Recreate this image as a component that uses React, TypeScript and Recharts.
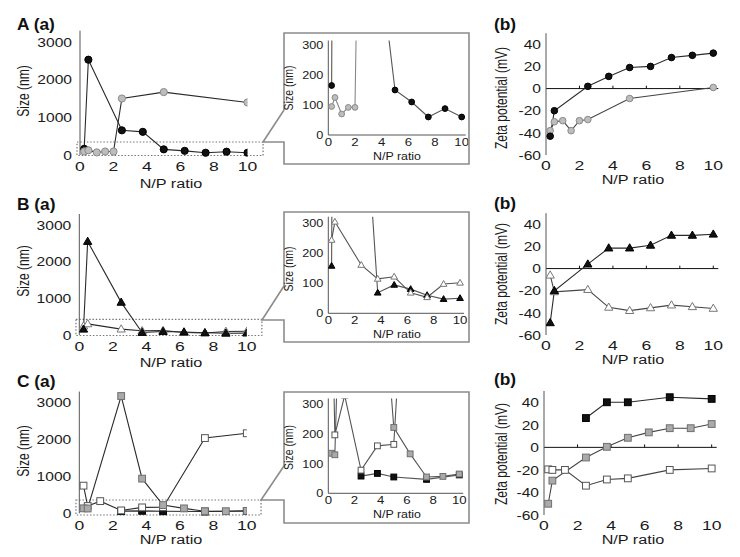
import React from 'react';
import { LineChart, Line, XAxis, YAxis, ReferenceLine, ReferenceArea } from 'recharts';

const FONT = '"Liberation Sans", Arial, Helvetica, sans-serif';

// ---------- Data (N/P ratio vs size / zeta potential) ----------
// Row A
const aSizeBlackX = [0.25, 0.5, 2.5, 3.75, 5, 6.25, 7.5, 8.75, 10];
const aSizeBlackY = [165, 2530, 655, 615, 150, 110, 60, 88, 60];
const aSizeGrayX = [0.25, 0.5, 1, 1.5, 2, 2.5, 5, 10];
const aSizeGrayY = [95, 125, 70, 92, 92, 1500, 1670, 1395];
const aZetaBlackX = [0.25, 0.5, 2.5, 3.75, 5, 6.25, 7.5, 8.75, 10];
const aZetaBlackY = [-43, -20, 2, 11, 19, 20, 28, 30, 32];
const aZetaGrayX = [0.25, 0.5, 1, 1.5, 2, 2.5, 5, 10];
const aZetaGrayY = [-38, -30, -29, -38, -29, -28, -9, 1];

// Row B
const bSizeX = [0.25, 0.5, 2.5, 3.75, 5, 6.25, 7.5, 8.75, 10];
const bSizeBlackY = [157, 2550, 890, 68, 94, 80, 60, 47, 50];
const bSizeWhiteY = [243, 303, 160, 114, 121, 68, 53, 97, 101];
const bZetaX = [0.25, 0.5, 2.5, 3.75, 5, 6.25, 7.5, 8.75, 10];
const bZetaBlackY = [-49, -20, 4, 18.5, 18.5, 21, 30, 30, 31];
const bZetaWhiteY = [-6, -21, -19, -35, -38, -35.5, -33, -34.5, -36];

// Row C
const cSizeWhiteX = [0.25, 0.5, 1.25, 2.5, 3.75, 5, 7.5, 10];
const cSizeWhiteY = [750, 197, 330, 78, 160, 165, 2040, 2170];
const cSizeGrayX = [0.25, 0.5, 2.5, 3.75, 5, 6.25, 7.5, 8.75, 10];
const cSizeGrayY = [135, 130, 3180, 940, 222, 133, 55, 57, 65];
const cSizeBlackX = [2.5, 3.75, 5, 7.5, 10];
const cSizeBlackY = [58, 67, 55, 47, 62];
const cZetaBlackX = [2.5, 3.75, 5, 7.5, 10];
const cZetaBlackY = [26, 40, 40, 44.5, 43];
const cZetaGrayX = [0.25, 0.5, 2.5, 3.75, 5, 6.25, 7.5, 8.75, 10];
const cZetaGrayY = [-50, -29.5, -9, 0.5, 8.5, 13.3, 17, 17, 20.7];
const cZetaWhiteX = [0.25, 0.5, 1.25, 2.5, 3.75, 5, 7.5, 10];
const cZetaWhiteY = [-19.5, -20, -20, -34, -28.5, -27.5, -20, -18.7];

// Ticks
const npTicks = [0, 2, 4, 6, 8, 10];
const sizeTicks = [0, 1000, 2000, 3000];
const insetTicks = [0, 100, 200, 300];
const zetaTicks = [-60, -40, -20, 0, 20, 40];
const zeroTickXs = [2, 4, 6, 8, 10];

// ---------- helpers ----------
type Pt = { x: number; y: number };
const pts = (xs: number[], ys: number[]): Pt[] => xs.map((x, i) => ({ x, y: ys[i] }));

type Kind = 'circle' | 'triangle' | 'square';
const makeDot = (kind: Kind, fill: string, stroke: string, s: number) => (props: any) => {
  const { cx, cy, index } = props;
  if (cx == null || cy == null) return <g key={`d${index}`} />;
  if (kind === 'circle')
    return <circle key={`d${index}`} cx={cx} cy={cy} r={s} fill={fill} stroke={stroke} strokeWidth={1} />;
  if (kind === 'square')
    return <rect key={`d${index}`} x={cx - s} y={cy - s} width={2 * s} height={2 * s} fill={fill} stroke={stroke} strokeWidth={1} />;
  const p = `${cx},${cy - s * 1.2} ${cx - s * 1.15},${cy + s * 0.8} ${cx + s * 1.15},${cy + s * 0.8}`;
  return <polygon key={`d${index}`} points={p} fill={fill} stroke={stroke} strokeWidth={1} />;
};

const mkTick = (fs: number, sx: number, kind: 'x' | 'y') => (p: any) => {
  const { x, y, payload, index } = p;
  return (
    <g key={`t${index}`} transform={`translate(${x},${y})`}>
      <text
        transform={`scale(${sx},1)`}
        textAnchor={kind === 'x' ? 'middle' : 'end'}
        dy={kind === 'x' ? '0.72em' : '0.36em'}
        fontSize={fs}
        fontFamily={FONT}
        fill="#1a1a1a"
      >
        {payload.value}
      </text>
    </g>
  );
};

type Series = { data: Pt[]; dot: any; stroke: string; width?: number };
type PanelProps = {
  left: number; top: number; w: number; h: number;
  xDomain: [number, number]; yDomain: [number, number];
  yTicks: number[]; series: Series[];
  yTickMargin: number; xTickMargin: number;
  yFs: number; ySx: number; xFs: number; xSx: number;
  xAxisLine?: boolean; zero?: boolean; clip?: boolean;
  box?: { x1: number; x2: number; y1: number; y2: number };
  axisColor?: string;
};

const AXW = 40; // reserved y-axis width
const AXH = 30; // reserved x-axis height

const Panel = (p: PanelProps) => {
  const W = 740, H = 557;
  const margin = { left: p.left - AXW, top: p.top, right: W - p.left - p.w, bottom: H - p.top - p.h - AXH };
  return (
    <div style={{ position: 'absolute', left: 0, top: 0, width: W, height: H }}>
      <LineChart width={W} height={H} margin={margin}>
        <XAxis
          type="number" dataKey="x" domain={p.xDomain} ticks={npTicks} height={AXH}
          axisLine={p.xAxisLine ? { stroke: p.axisColor || '#444', strokeWidth: 1 } : false}
          tickLine={false} tickSize={0} tickMargin={p.xTickMargin}
          tick={mkTick(p.xFs, p.xSx, 'x')} interval={0} allowDataOverflow
        />
        <YAxis
          type="number" dataKey="y" domain={p.yDomain} ticks={p.yTicks} width={AXW}
          axisLine={{ stroke: p.axisColor || '#444', strokeWidth: 1 }}
          tickLine={false} tickSize={0} tickMargin={p.yTickMargin}
          tick={mkTick(p.yFs, p.ySx, 'y')} interval={0} allowDataOverflow={!!p.clip}
        />
        {p.zero && <ReferenceLine y={0} stroke="#111" strokeWidth={1} ifOverflow="visible" />}
        {p.zero &&
          zeroTickXs.map((tx) => (
            <ReferenceLine key={`zt${tx}`} segment={[{ x: tx, y: 0 }, { x: tx, y: 2.6 }]} stroke="#111" strokeWidth={1} ifOverflow="visible" />
          ))}
        {p.box && (
          <ReferenceArea
            x1={p.box.x1} x2={p.box.x2} y1={p.box.y1} y2={p.box.y2}
            fill="none" fillOpacity={0} stroke="#777" strokeWidth={1.2} strokeDasharray="1.5 1.8" ifOverflow="visible"
          />
        )}
        {p.series.map((s, i) => (
          <Line
            key={i} data={s.data} dataKey="y" type="linear" stroke={s.stroke} strokeWidth={s.width || 1.1}
            dot={s.dot} activeDot={false} isAnimationActive={false} legendType="none"
          />
        ))}
      </LineChart>
    </div>
  );
};

// marker styles
const BLK = '#111';
const GRY = '#bdbdbd';
const GRYS = '#8a8a8a';

const mainCommon = {
  w: 167.5, xDomain: [0, 10] as [number, number], yDomain: [0, 3300] as [number, number], yTicks: sizeTicks,
  yTickMargin: 8, xTickMargin: 7, yFs: 13, ySx: 1.2, xFs: 13, xSx: 1.35, axisColor: '#555',
};
const zetaCommon = {
  xDomain: [0, 10.3] as [number, number], yDomain: [-60, 50] as [number, number], yTicks: zetaTicks,
  yTickMargin: 5, xTickMargin: 6, yFs: 13, ySx: 1.2, xFs: 13, xSx: 1.35, zero: true, axisColor: '#555',
};
const insetCommon = {
  xDomain: [0, 10.3] as [number, number], yTicks: insetTicks,
  yTickMargin: 5, xTickMargin: 3, yFs: 11, ySx: 1.15, xFs: 11, xSx: 1.2, xAxisLine: true, clip: true, axisColor: '#555',
};

const HLabel = ({ x, y, text, fs, sx, bold }: any) => (
  <text transform={`translate(${x},${y}) scale(${sx},1)`} textAnchor="middle" fontSize={fs} fontFamily={FONT} fontWeight={bold ? 'bold' : 'normal'} fill="#1a1a1a">{text}</text>
);
const LLabel = ({ x, y, text, fs, sx }: any) => (
  <text transform={`translate(${x},${y}) scale(${sx},1)`} textAnchor="start" fontSize={fs} fontFamily={FONT} fontWeight="bold" fill="#111">{text}</text>
);
const VLabel = ({ x, y, text, fs, sx }: any) => (
  <text transform={`translate(${x},${y}) scale(${sx},1) rotate(-90)`} textAnchor="middle" fontSize={fs} fontFamily={FONT} fill="#1a1a1a">{text}</text>
);

const calloutPath = (top: number, bottom: number, join: number, notch: number, tip: number) => {
  const L = 284, R = 469;
  return `M${L},${join} L${L},${top} L${R},${top} L${R},${bottom} L${L},${bottom} L${L},${notch} L${tip},${notch} L${L},${join}`;
};

export default function App() {
  const circBlk = makeDot('circle', BLK, '#000', 3.6);
  const circGry = makeDot('circle', GRY, GRYS, 3.6);
  const circBlkS = makeDot('circle', BLK, '#000', 2.9);
  const circGryS = makeDot('circle', GRY, GRYS, 2.9);
  const circBlkZ = makeDot('circle', BLK, '#000', 3.3);
  const circGryZ = makeDot('circle', GRY, GRYS, 3.3);
  const triBlk = makeDot('triangle', BLK, '#000', 3.6);
  const triWht = makeDot('triangle', '#fff', '#777', 3.6);
  const triBlkS = makeDot('triangle', BLK, '#000', 2.9);
  const triWhtS = makeDot('triangle', '#fff', '#777', 2.9);
  const sqBlk = makeDot('square', BLK, '#000', 3.4);
  const sqGry = makeDot('square', '#aaa', '#6f6f6f', 3.4);
  const sqWht = makeDot('square', '#fff', '#555', 3.4);
  const sqBlkS = makeDot('square', BLK, '#000', 2.9);
  const sqGryS = makeDot('square', '#aaa', '#6f6f6f', 2.9);
  const sqWhtS = makeDot('square', '#fff', '#555', 2.9);

  const aSB = pts(aSizeBlackX, aSizeBlackY);
  const aSG = pts(aSizeGrayX, aSizeGrayY);
  const aZB = pts(aZetaBlackX, aZetaBlackY);
  const aZG = pts(aZetaGrayX, aZetaGrayY);
  const bSB = pts(bSizeX, bSizeBlackY);
  const bSW = pts(bSizeX, bSizeWhiteY);
  const bZB = pts(bZetaX, bZetaBlackY);
  const bZW = pts(bZetaX, bZetaWhiteY);
  const cSW = pts(cSizeWhiteX, cSizeWhiteY);
  const cSG = pts(cSizeGrayX, cSizeGrayY);
  const cSB = pts(cSizeBlackX, cSizeBlackY);
  const cZB = pts(cZetaBlackX, cZetaBlackY);
  const cZG = pts(cZetaGrayX, cZetaGrayY);
  const cZW = pts(cZetaWhiteX, cZetaWhiteY);

  const LC = '#2a2a2a';
  const LI = '#555';

  return (
    <div style={{ position: 'absolute', left: 0, top: 0, width: 740, height: 557, background: '#fff', overflow: 'hidden' }}>
      {/* Row A */}
      <Panel {...mainCommon} left={80} top={30.7} h={124.3}
        box={{ x1: -0.18, x2: 10.93, y1: -13, y2: 345 }}
        series={[{ data: aSB, dot: circBlk, stroke: LC }, { data: aSG, dot: circGry, stroke: LC }]} />
      <Panel {...insetCommon} left={328.3} top={40.5} w={137.4} h={94.5} yDomain={[0, 315]}
        series={[{ data: aSB, dot: circBlkS, stroke: LI }, { data: aSG, dot: circGryS, stroke: '#888' }]} />
      <Panel {...zetaCommon} left={546} top={33.2} w={172.3} h={121.8}
        series={[{ data: aZG, dot: circGryZ, stroke: '#444' }, { data: aZB, dot: circBlkZ, stroke: LC }]} />

      {/* Row B */}
      <Panel {...mainCommon} left={79.3} top={214} h={121}
        box={{ x1: -0.2, x2: 10.9, y1: -14, y2: 428 }}
        series={[{ data: bSW, dot: triWht, stroke: LC }, { data: bSB, dot: triBlk, stroke: LC }]} />
      <Panel {...insetCommon} left={328.3} top={216.7} w={135.7} h={96.6} yDomain={[0, 320]}
        series={[{ data: bSB, dot: triBlkS, stroke: LI }, { data: bSW, dot: triWhtS, stroke: LI }]} />
      <Panel {...zetaCommon} left={546} top={213.2} w={172.3} h={121.8}
        series={[{ data: bZW, dot: triWht, stroke: '#444' }, { data: bZB, dot: triBlk, stroke: LC }]} />

      {/* Row C */}
      <Panel {...mainCommon} left={79.3} top={391.6} h={121.7}
        box={{ x1: -0.2, x2: 10.85, y1: -46, y2: 360 }}
        series={[{ data: cSB, dot: sqBlk, stroke: LC }, { data: cSW, dot: sqWht, stroke: LC }, { data: cSG, dot: sqGry, stroke: LC }]} />
      <Panel {...insetCommon} left={328.3} top={398.4} w={134.9} h={94.9} yDomain={[0, 320]}
        series={[{ data: cSB, dot: sqBlkS, stroke: LI }, { data: cSW, dot: sqWhtS, stroke: LI }, { data: cSG, dot: sqGryS, stroke: LI }]} />
      <Panel {...zetaCommon} left={544} top={391} w={172.7} h={124}
        series={[{ data: cZW, dot: sqWht, stroke: '#444' }, { data: cZG, dot: sqGry, stroke: '#444' }, { data: cZB, dot: sqBlk, stroke: LC }]} />

      {/* Overlay: titles, axis labels, callout boxes */}
      <svg width={740} height={557} style={{ position: 'absolute', left: 0, top: 0, pointerEvents: 'none' }}>
        <path d={calloutPath(33, 164, 110, 142, 263)} fill="none" stroke="#8c8c8c" strokeWidth={1.6} />
        <path d={calloutPath(212, 342, 286, 320, 262)} fill="none" stroke="#8c8c8c" strokeWidth={1.6} />
        <path d={calloutPath(392, 523, 466, 500, 261)} fill="none" stroke="#8c8c8c" strokeWidth={1.6} />

        <LLabel x={17} y={30} text="A (a)" fs={16.5} sx={1.05} />
        <LLabel x={17} y={210} text="B (a)" fs={16.5} sx={1.05} />
        <LLabel x={17} y={387} text="C (a)" fs={16.5} sx={1.05} />
        <LLabel x={494} y={30} text="(b)" fs={16.5} sx={1.05} />
        <LLabel x={494} y={209} text="(b)" fs={16.5} sx={1.05} />
        <LLabel x={494} y={385} text="(b)" fs={16.5} sx={1.05} />

        <HLabel x={171} y={187.5} text="N/P ratio" fs={13.5} sx={1.2} />
        <HLabel x={171} y={367} text="N/P ratio" fs={13.5} sx={1.2} />
        <HLabel x={171} y={544} text="N/P ratio" fs={13.5} sx={1.2} />
        <HLabel x={633} y={184} text="N/P ratio" fs={13.5} sx={1.2} />
        <HLabel x={633} y={364} text="N/P ratio" fs={13.5} sx={1.2} />
        <HLabel x={633} y={544} text="N/P ratio" fs={13.5} sx={1.2} />
        <HLabel x={397} y={160} text="N/P ratio" fs={11.5} sx={1.08} />
        <HLabel x={397} y={338.3} text="N/P ratio" fs={11.5} sx={1.08} />
        <HLabel x={397} y={518} text="N/P ratio" fs={11.5} sx={1.08} />

        <VLabel x={28.5} y={91} text="Size (nm)" fs={12} sx={1.4} />
        <VLabel x={28.5} y={271} text="Size (nm)" fs={12} sx={1.4} />
        <VLabel x={28.5} y={451} text="Size (nm)" fs={12} sx={1.4} />
        <VLabel x={506.5} y={98} text="Zeta potential (mV)" fs={12} sx={1.4} />
        <VLabel x={506.5} y={274} text="Zeta potential (mV)" fs={12} sx={1.4} />
        <VLabel x={506.5} y={454} text="Zeta potential (mV)" fs={12} sx={1.4} />
        <VLabel x={292.5} y={88} text="Size (nm)" fs={10.5} sx={1.2} />
        <VLabel x={292.5} y={269} text="Size (nm)" fs={10.5} sx={1.2} />
        <VLabel x={292.5} y={447.5} text="Size (nm)" fs={10.5} sx={1.2} />
      </svg>
    </div>
  );
}
